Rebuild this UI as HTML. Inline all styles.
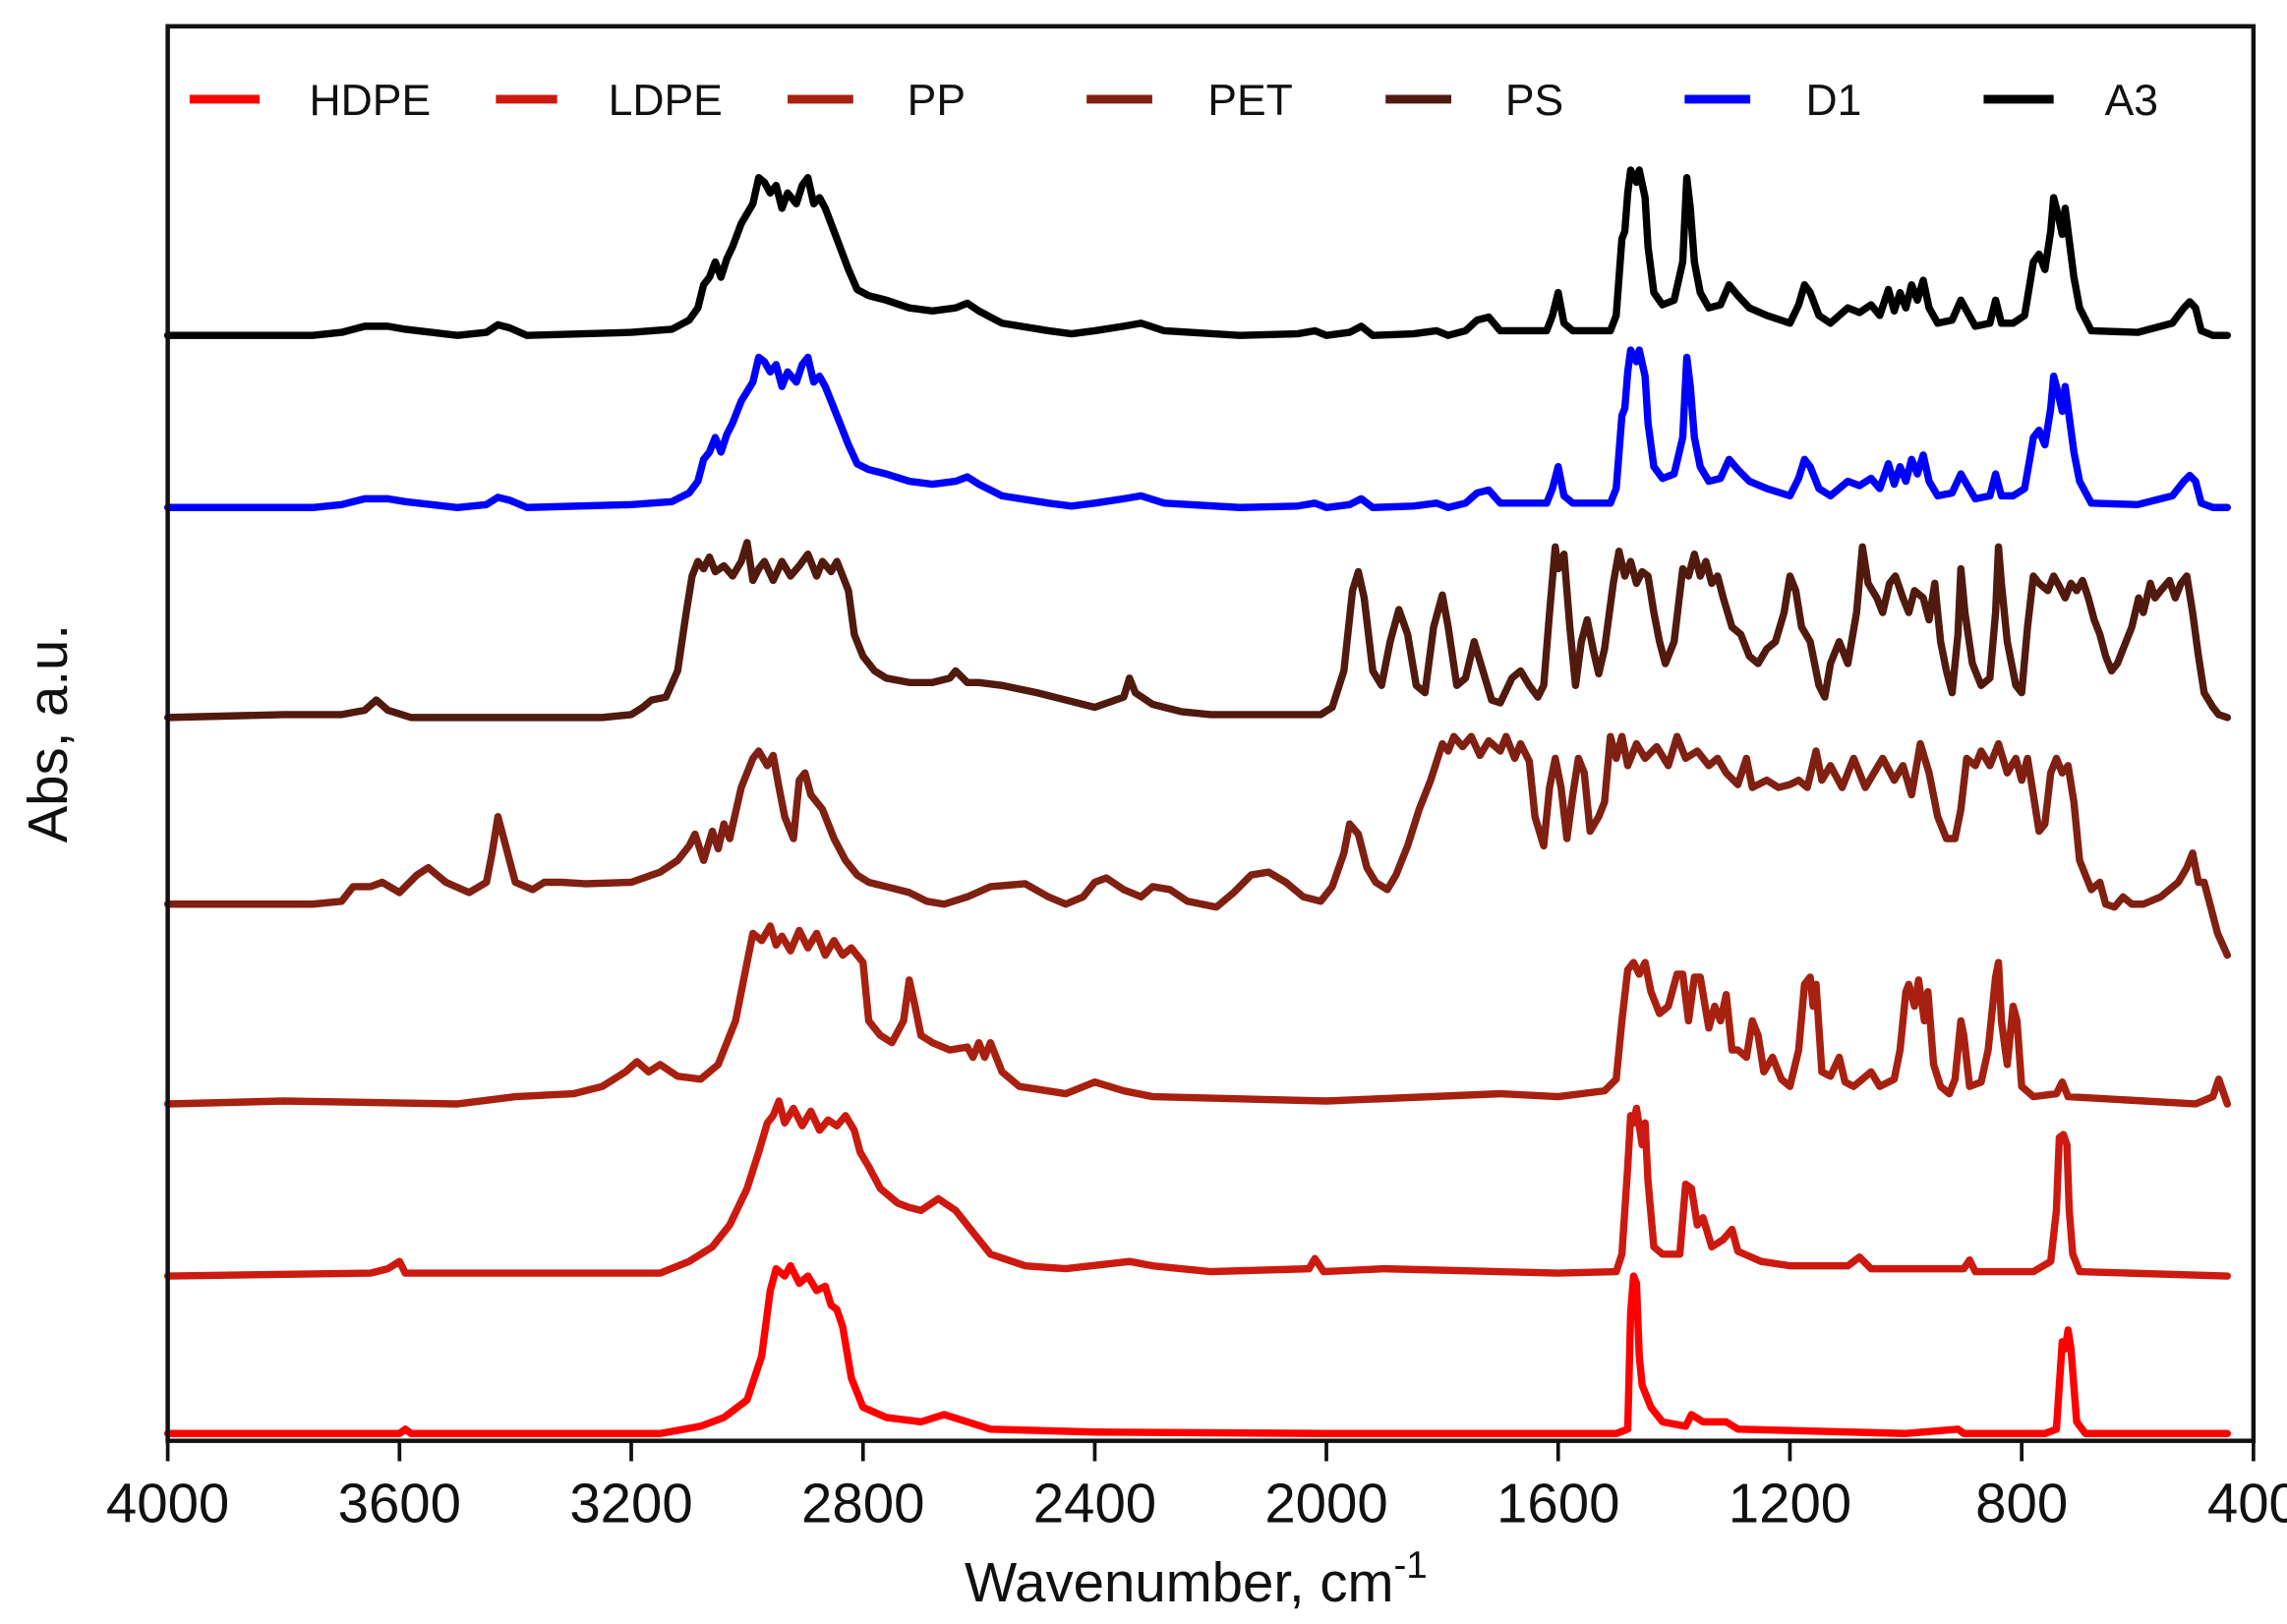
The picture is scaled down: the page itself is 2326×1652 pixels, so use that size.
<!DOCTYPE html>
<html><head><meta charset="utf-8"><style>
html,body{margin:0;padding:0;background:#fff;}
svg{display:block;font-family:"Liberation Sans",Arial,sans-serif;}
</style></head><body>
<svg id="s" width="2326" height="1652" viewBox="0 0 1568 1113.6" xmlns="http://www.w3.org/2000/svg">
<rect width="1568" height="1113.6" fill="#fff"/>
<g id="curves" fill="none" stroke-width="5" stroke-linejoin="round" stroke-linecap="round"></g>
<rect x="115" y="18" width="1430" height="970" fill="none" stroke="#111" stroke-width="3"/>
<g stroke="#111" stroke-width="2.5">
<line x1="115" y1="988" x2="115" y2="1002"/><line x1="273.9" y1="988" x2="273.9" y2="1002"/>
<line x1="432.8" y1="988" x2="432.8" y2="1002"/><line x1="591.7" y1="988" x2="591.7" y2="1002"/>
<line x1="750.6" y1="988" x2="750.6" y2="1002"/><line x1="909.4" y1="988" x2="909.4" y2="1002"/>
<line x1="1068.3" y1="988" x2="1068.3" y2="1002"/><line x1="1227.2" y1="988" x2="1227.2" y2="1002"/>
<line x1="1386.1" y1="988" x2="1386.1" y2="1002"/><line x1="1545" y1="988" x2="1545" y2="1002"/>
</g>
<g font-size="38" fill="#111" text-anchor="middle">
<text x="115" y="1044">4000</text><text x="273.9" y="1044">3600</text><text x="432.8" y="1044">3200</text>
<text x="591.7" y="1044">2800</text><text x="750.6" y="1044">2400</text><text x="909.4" y="1044">2000</text>
<text x="1068.3" y="1044">1600</text><text x="1227.2" y="1044">1200</text><text x="1386.1" y="1044">800</text>
<text x="1545" y="1044">400</text>
<text x="820" y="1098">Wavenumber, cm<tspan font-size="26" dy="-16">-1</tspan></text>
<text transform="translate(46,503) rotate(-90)">Abs, a.u.</text>
</g>
<g stroke-width="6">
<line x1="130" y1="68" x2="178" y2="68" stroke="#ff0000"/>
<line x1="340" y1="68" x2="382" y2="68" stroke="#cc1a10"/>
<line x1="540" y1="68" x2="585" y2="68" stroke="#a8200f"/>
<line x1="745" y1="68" x2="790" y2="68" stroke="#7f2012"/>
<line x1="950" y1="68" x2="995" y2="68" stroke="#501a0e"/>
<line x1="1155" y1="68" x2="1200" y2="68" stroke="#0000ff"/>
<line x1="1360" y1="68" x2="1408" y2="68" stroke="#000"/>
</g>
<g font-size="30" fill="#111">
<text x="212" y="79">HDPE</text><text x="417" y="79">LDPE</text><text x="622" y="79">PP</text>
<text x="828" y="79">PET</text><text x="1032" y="79">PS</text><text x="1238" y="79">D1</text><text x="1443" y="79">A3</text>
</g>
</svg>
<script>
var HDPE=[[4000,983],[3600,983],[3590,980],[3580,983],[3150,983],[3080,978],[3040,972],[3000,960],[2975,930],[2960,885],[2950,870],[2935,875],[2925,868],[2910,880],[2895,875],[2880,885],[2865,882],[2855,895],[2845,898],[2835,910],[2820,945],[2800,965],[2760,972],[2700,975],[2660,970],[2620,975],[2580,980],[2400,982],[2000,983],[1500,983],[1480,980],[1475,900],[1470,875],[1465,880],[1460,930],[1455,950],[1440,965],[1420,975],[1380,978],[1370,970],[1350,975],[1310,975],[1290,980],[1000,983],[910,980],[900,983],[760,983],[740,980],[730,920],[725,925],[720,912],[715,925],[705,975],[690,983],[445,983]];
var LDPE=[[4000,875],[3650,873],[3620,870],[3600,865],[3590,873],[3150,873],[3100,865],[3060,855],[3030,840],[3000,815],[2980,790],[2965,770],[2955,765],[2945,755],[2935,770],[2920,760],[2905,772],[2890,762],[2875,775],[2860,768],[2845,772],[2830,765],[2815,775],[2805,790],[2790,800],[2770,815],[2740,825],[2720,828],[2700,830],[2670,822],[2640,830],[2610,845],[2580,860],[2520,868],[2450,870],[2340,865],[2300,868],[2200,872],[2030,870],[2020,863],[2005,872],[1900,870],[1600,873],[1500,872],[1490,860],[1480,800],[1475,765],[1470,770],[1465,760],[1455,785],[1450,770],[1445,810],[1435,855],[1420,860],[1390,860],[1380,812],[1370,815],[1360,840],[1350,835],[1335,855],[1315,850],[1300,843],[1290,858],[1250,865],[1200,868],[1100,868],[1080,862],[1060,870],[900,870],[890,864],[880,872],[780,872],[750,865],[740,830],[735,780],[728,778],[722,785],[718,830],[712,860],[700,872],[445,875]];
var PP=[[4000,757],[3800,755],[3500,757],[3400,752],[3300,750],[3250,745],[3210,735],[3190,728],[3170,735],[3150,730],[3120,738],[3080,740],[3050,730],[3020,700],[3000,660],[2990,640],[2975,645],[2960,635],[2950,648],[2940,642],[2925,652],[2910,638],[2895,650],[2880,640],[2865,655],[2850,645],[2835,655],[2820,650],[2810,655],[2800,660],[2790,700],[2770,710],[2750,715],[2730,700],[2720,672],[2710,690],[2700,710],[2680,715],[2650,720],[2620,718],[2610,725],[2600,715],[2590,725],[2580,715],[2560,735],[2530,745],[2450,750],[2400,742],[2350,748],[2300,752],[2000,755],[1700,750],[1600,752],[1520,748],[1500,740],[1490,700],[1480,665],[1470,660],[1460,668],[1450,660],[1440,680],[1425,695],[1410,690],[1395,668],[1385,668],[1375,700],[1365,670],[1355,670],[1340,705],[1330,690],[1320,700],[1310,682],[1300,720],[1290,720],[1275,725],[1265,700],[1255,710],[1245,735],[1230,725],[1215,740],[1200,745],[1185,720],[1175,675],[1165,670],[1160,690],[1155,675],[1145,735],[1130,738],[1115,725],[1105,742],[1090,745],[1075,740],[1060,735],[1045,745],[1020,740],[1010,720],[1000,680],[995,675],[985,690],[978,672],[968,700],[962,680],[952,730],[940,745],[925,750],[915,740],[905,700],[900,710],[890,745],[870,742],[858,720],[845,670],[840,660],[835,700],[825,730],[815,690],[808,700],[800,745],[780,752],[740,750],[730,742],[720,752],[500,757],[470,752],[460,740],[445,757]];
var PET=[[4000,620],[3750,620],[3700,618],[3680,608],[3650,608],[3630,605],[3600,612],[3570,600],[3550,595],[3520,605],[3480,612],[3450,605],[3440,585],[3430,560],[3420,575],[3400,605],[3370,610],[3350,605],[3320,605],[3280,606],[3200,605],[3150,598],[3120,590],[3100,580],[3090,572],[3075,590],[3060,570],[3050,582],[3040,565],[3030,575],[3010,540],[2990,520],[2980,515],[2965,525],[2955,518],[2945,540],[2935,560],[2920,575],[2910,535],[2900,530],[2890,545],[2870,555],[2850,575],[2830,590],[2810,600],[2790,605],[2760,608],[2720,612],[2690,618],[2660,620],[2620,615],[2580,608],[2520,606],[2480,615],[2450,620],[2420,615],[2400,605],[2380,602],[2350,610],[2320,615],[2300,608],[2270,610],[2240,618],[2190,622],[2160,612],[2130,600],[2100,598],[2070,605],[2040,615],[2010,618],[1990,608],[1970,585],[1960,565],[1945,572],[1930,595],[1915,605],[1895,610],[1880,600],[1860,580],[1840,555],[1820,535],[1800,510],[1790,515],[1780,505],[1765,512],[1750,505],[1735,518],[1720,508],[1700,515],[1690,505],[1675,520],[1665,510],[1650,522],[1640,560],[1625,580],[1615,540],[1605,520],[1595,540],[1585,575],[1575,545],[1565,520],[1555,530],[1545,570],[1530,560],[1520,550],[1510,505],[1500,520],[1490,505],[1480,525],[1465,510],[1450,520],[1430,512],[1410,525],[1395,505],[1380,520],[1360,515],[1340,525],[1325,520],[1310,530],[1290,538],[1275,520],[1265,540],[1240,535],[1220,540],[1200,538],[1185,535],[1170,540],[1155,515],[1145,535],[1130,525],[1110,540],[1090,520],[1070,540],[1055,530],[1040,520],[1020,535],[1005,525],[990,545],[975,510],[960,530],[945,560],[930,575],[915,575],[905,555],[895,520],[880,525],[870,515],[855,525],[840,510],[825,530],[810,520],[800,535],[790,520],[780,545],[770,570],[760,565],[750,530],[740,520],[730,530],[720,525],[710,550],[700,590],[690,600],[680,610],[665,605],[655,620],[640,622],[625,615],[610,620],[590,620],[560,615],[530,605],[515,595],[505,585],[495,605],[485,605],[475,620],[462,640],[445,655]];
var PS=[[4000,492],[3800,490],[3700,490],[3660,487],[3640,480],[3620,487],[3580,492],[3300,492],[3250,492],[3200,490],[3180,485],[3165,480],[3140,478],[3120,460],[3105,420],[3095,395],[3085,385],[3075,390],[3065,382],[3055,392],[3040,388],[3025,395],[3010,385],[3000,372],[2990,398],[2980,390],[2970,385],[2955,398],[2940,385],[2925,395],[2910,388],[2895,380],[2880,395],[2870,385],[2855,392],[2845,385],[2835,395],[2825,405],[2815,435],[2800,450],[2780,460],[2760,465],[2720,468],[2680,468],[2650,465],[2640,460],[2620,468],[2600,468],[2560,470],[2500,475],[2450,480],[2400,485],[2350,478],[2340,465],[2330,475],[2300,483],[2280,485],[2250,488],[2200,490],[2100,490],[2010,490],[1990,485],[1970,460],[1955,405],[1945,392],[1935,410],[1920,460],[1905,470],[1890,440],[1875,418],[1860,435],[1845,470],[1830,475],[1815,430],[1800,408],[1790,430],[1775,470],[1760,465],[1745,440],[1730,460],[1715,480],[1700,482],[1680,465],[1665,460],[1650,470],[1635,478],[1625,470],[1615,420],[1605,375],[1600,390],[1590,380],[1580,430],[1570,470],[1560,440],[1550,425],[1540,445],[1530,462],[1520,445],[1505,400],[1495,378],[1485,395],[1475,385],[1465,400],[1455,392],[1445,395],[1435,420],[1425,440],[1415,455],[1400,440],[1385,390],[1375,395],[1365,380],[1355,395],[1345,385],[1335,400],[1325,395],[1315,410],[1300,430],[1285,435],[1270,450],[1255,455],[1240,445],[1225,440],[1210,420],[1200,395],[1190,405],[1180,430],[1165,440],[1150,470],[1140,478],[1130,455],[1115,440],[1100,455],[1085,420],[1075,375],[1065,400],[1050,410],[1040,420],[1028,400],[1018,395],[1005,410],[995,420],[985,405],[970,410],[960,425],[950,400],[940,440],[930,460],[920,475],[910,435],[905,390],[898,420],[885,455],[870,470],[855,465],[845,420],[840,375],[835,400],[825,440],[810,470],[800,475],[790,430],[780,395],[770,400],[755,405],[745,395],[735,402],[725,410],[715,400],[705,405],[695,398],[685,410],[675,425],[665,435],[655,450],[645,460],[635,455],[620,440],[610,430],[598,410],[590,420],[578,400],[570,410],[560,405],[545,398],[535,410],[525,400],[515,395],[505,420],[495,450],[485,475],[470,485],[460,490],[445,492]];
var D1=[[4000,348],[3750,348],[3700,346],[3660,342],[3620,342],[3590,344],[3500,348],[3450,346],[3430,341],[3410,343],[3380,348],[3200,346],[3130,344],[3100,338],[3085,330],[3075,315],[3065,310],[3055,300],[3045,310],[3035,298],[3025,290],[3010,275],[2990,262],[2980,245],[2970,248],[2960,255],[2950,250],[2940,265],[2930,255],[2915,262],[2905,250],[2895,245],[2885,262],[2875,258],[2865,265],[2855,275],[2840,290],[2825,305],[2810,318],[2790,322],[2760,325],[2720,330],[2680,332],[2640,330],[2620,327],[2600,332],[2560,340],[2480,345],[2440,347],[2400,345],[2350,342],[2320,340],[2280,345],[2150,348],[2050,347],[2020,345],[2000,348],[1960,346],[1940,342],[1920,348],[1850,347],[1810,345],[1790,348],[1760,345],[1740,338],[1720,336],[1700,345],[1620,345],[1610,335],[1600,320],[1590,340],[1575,345],[1510,345],[1500,335],[1490,285],[1485,280],[1480,255],[1475,240],[1465,248],[1460,240],[1450,258],[1445,290],[1435,320],[1420,328],[1400,325],[1385,300],[1378,245],[1372,265],[1365,300],[1355,320],[1340,330],[1320,328],[1305,315],[1290,322],[1270,330],[1240,335],[1200,340],[1185,328],[1175,315],[1165,320],[1150,335],[1130,340],[1100,330],[1080,333],[1060,328],[1045,335],[1030,318],[1020,332],[1010,320],[1000,330],[990,315],[980,325],[970,312],[960,330],[945,340],[920,338],[905,325],[895,332],[880,342],[855,340],[845,325],[835,340],[815,340],[795,335],[785,312],[780,300],[770,295],[760,305],[750,280],[745,258],[738,268],[730,282],[725,265],[720,280],[710,310],[700,330],[680,345],[600,346],[540,340],[520,330],[510,326],[500,330],[490,345],[470,348],[445,348]];
var A3=D1.map(function(p){return [p[0],230-(348-p[1])*1.05];});
function X(w){return 115+(4000-w)*0.397222;}
function path(pts){return pts.map(function(p,i){return (i?'L':'M')+X(p[0]).toFixed(1)+' '+p[1].toFixed(1);}).join('');}
var series=[[HDPE,'#ff0000'],[LDPE,'#cc1a10'],[PP,'#a8200f'],[PET,'#7f2012'],[PS,'#501a0e'],[D1,'#0000ff'],[A3,'#000000']];
var g=document.getElementById('curves');
series.forEach(function(s){var p=document.createElementNS('http://www.w3.org/2000/svg','path');p.setAttribute('d',path(s[0]));p.setAttribute('stroke',s[1]);g.appendChild(p);});
</script>
</body></html>
